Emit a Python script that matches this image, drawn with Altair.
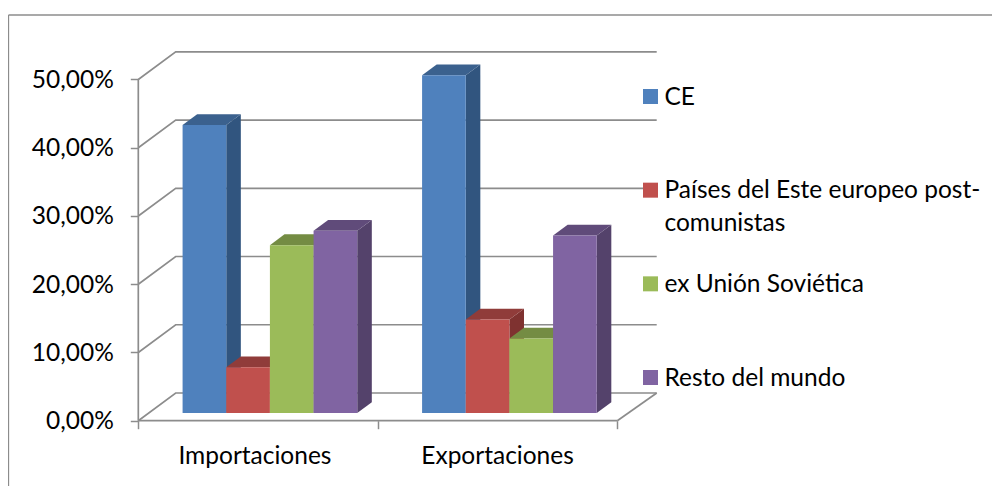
import altair as alt
import pandas as pd

categories = ["Importaciones", "Exportaciones"]
series = ["CE", "Países del Este europeo post-\ncomunistas", "ex Unión Soviética", "Resto del mundo"]
importaciones = [42.2, 6.7, 24.6, 26.7]
exportaciones = [49.5, 13.7, 10.9, 26.0]
front_colors = ["#4F81BD", "#C0504D", "#9BBB59", "#8064A2"]
top_colors = ["#3B618E", "#903C3A", "#748C43", "#604B7A"]
side_colors = ["#31557F", "#7F3230", "#667B3B", "#54426B"]
y_ticks = [0, 10, 20, 30, 40, 50]
x_ticks = [0, 1, 2]

GRAY = "#8C8C8C"
FONT = "Lato"
FS = 24.5

W, H = 984, 478
PX_X = 239.5
PX_Y = 6.824
DX = 37.4 / PX_X      # depth shift along x (category units)
DV = 27.7 / PX_Y      # depth shift along y (percent units)
BACK_RIGHT = (656.7 - 138.3) / PX_X
xdom = [(8 - 138.3) / PX_X, (8 + W - 138.3) / PX_X]
ydom = [(420.7 - (8 + H)) / PX_Y, (420.7 - 8) / PX_Y]
xs = alt.Scale(domain=xdom, nice=False, zero=False)
ys = alt.Scale(domain=ydom, nice=False, zero=False)

BAR_W = 0.1823
GAP = 0.1415
Z0, DEPTH = 0.278, 0.39

x_axis = alt.Axis(
    values=x_ticks, grid=False, domain=False, labels=False, tickSize=8, tickWidth=1.5,
    tickColor=GRAY, title=None, offset=-(8 + H - 420.7))
y_axis = alt.Axis(
    values=y_ticks, grid=False, domain=False, tickSize=8, tickWidth=1.5, tickColor=GRAY, title=None,
    labelFont=FONT, labelFontSize=FS, labelColor="#000000", labelPadding=17, labelOffset=1,
    labelExpr="replace(format(datum.value,'.2f'),'.',',')+'%'",
    offset=-(138.3 - 8))


def X(f="x"):
    return alt.X(f"{f}:Q", scale=xs, axis=x_axis)


def Y(f="y"):
    return alt.Y(f"{f}:Q", scale=ys, axis=y_axis)


layers = []

# frame
frame_df = pd.DataFrame({"a": [0]})
layers.append(alt.Chart(frame_df).mark_rule(color=GRAY, strokeWidth=1.3).encode(
    x=alt.value(0.5), y=alt.value(7), y2=alt.value(H)))
layers.append(alt.Chart(frame_df).mark_rule(color=GRAY, strokeWidth=1.3).encode(
    x=alt.value(0.5), x2=alt.value(W), y=alt.value(7)))

# walls: grid lines
rows = []
for t in y_ticks:
    rows += [dict(x=0, y=t, k=t), dict(x=DX, y=t + DV, k=t), dict(x=BACK_RIGHT, y=t + DV, k=t)]
layers.append(alt.Chart(pd.DataFrame(rows)).mark_line(color=GRAY, strokeWidth=1.7).encode(
    x=X(), y=Y(), detail="k:N"))

# floor
floor = [dict(x=0, y=0, k="f"), dict(x=2, y=0, k="f"),
         dict(x=2, y=0, k="r"), dict(x=BACK_RIGHT, y=DV, k="r")]
layers.append(alt.Chart(pd.DataFrame(floor)).mark_line(color=GRAY, strokeWidth=1.7).encode(
    x=X(), y=Y(), detail="k:N"))
layers.append(alt.Chart(pd.DataFrame({"x": [0], "y": [0], "y2": [50]})).mark_rule(color=GRAY, strokeWidth=1.7).encode(
    x=X(), y=Y(), y2="y2:Q"))

# bars, left to right
for i, name in enumerate(series):
    side, top, front = [], [], []
    for g, vals in enumerate([importaciones, exportaciones]):
        v = vals[i]
        x0 = g + GAP + i * BAR_W + Z0 * DX
        x1 = x0 + BAR_W
        base = Z0 * DV
        d_x, d_v = DEPTH * DX, DEPTH * DV
        front.append(dict(x=x0, x2=x1, y=base, y2=v + base))
        side += [dict(x=x1, y=base, y2=v + base, g=g),
                 dict(x=x1 + d_x, y=base + d_v, y2=v + base + d_v, g=g)]
        top += [dict(y=v + base, x=x0, x2=x1, g=g),
                dict(y=v + base + d_v, x=x0 + d_x, x2=x1 + d_x, g=g)]
    layers.append(alt.Chart(pd.DataFrame(side)).mark_area(color=side_colors[i], orient="vertical").encode(
        x=X(), y=Y(), y2="y2:Q", detail="g:N"))
    layers.append(alt.Chart(pd.DataFrame(top)).mark_area(color=top_colors[i], orient="horizontal").encode(
        y=Y(), x=X(), x2="x2:Q", detail="g:N"))
    layers.append(alt.Chart(pd.DataFrame(front)).mark_rect(color=front_colors[i]).encode(
        x=X(), x2="x2:Q", y=Y(), y2="y2:Q"))

# category labels
cat_df = pd.DataFrame({"c": categories, "x": [0.487, 1.5]})
layers.append(alt.Chart(cat_df).mark_text(font=FONT, fontSize=FS, color="#000000", baseline="alphabetic").encode(
    x=X(), y=alt.value(456), text="c:N"))

# legend
for i, name in enumerate(series):
    cy = 96.5 + 93.67 * i - 8
    d = pd.DataFrame({"t": [name]})
    layers.append(alt.Chart(d).mark_square(color=front_colors[i], size=225, opacity=1).encode(
        x=alt.value(650.5 - 8), y=alt.value(cy)))
    layers.append(alt.Chart(d).mark_text(font=FONT, fontSize=FS, color="#000000", align="left",
                                         baseline="alphabetic", lineBreak="\n", lineHeight=32.7).encode(
        x=alt.value(664.5 - 8), y=alt.value(cy + 8), text="t:N"))

chart = alt.layer(*layers).properties(
    width=W, height=H, padding=0, autosize=alt.AutoSizeParams(type="none"), background="#ffffff"
).configure_view(stroke=None)

chart.save("out.html", embed_options={"renderer": "svg", "actions": False})
